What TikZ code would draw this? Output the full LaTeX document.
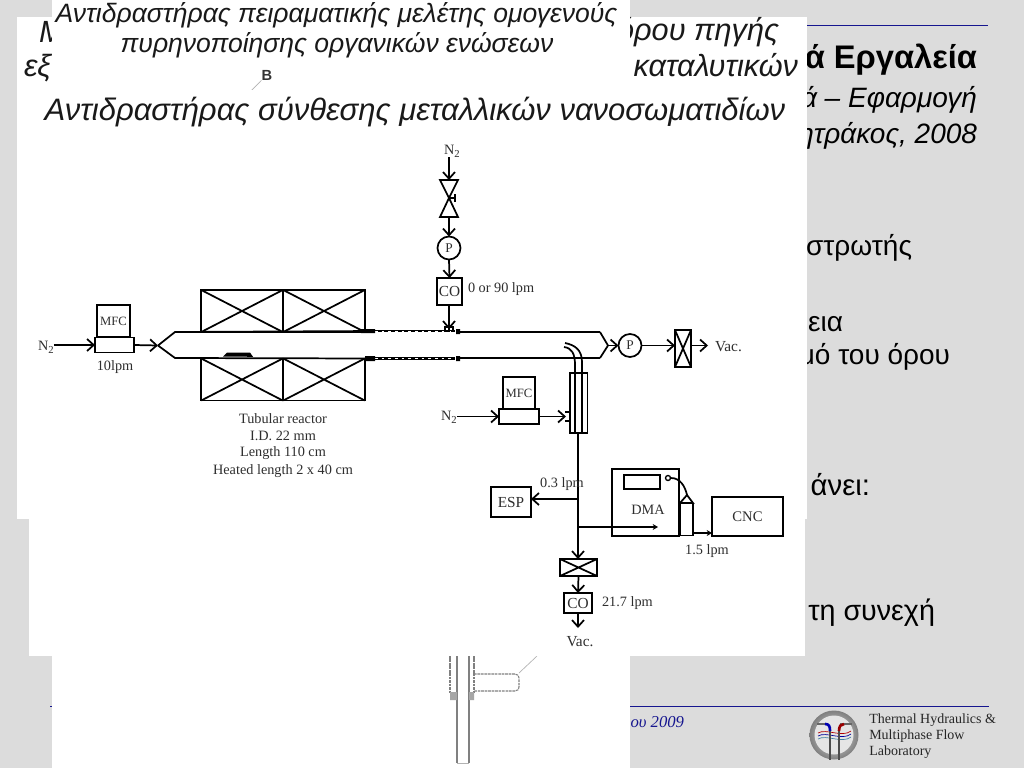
\documentclass[tikz,border=0pt]{standalone}
\usepackage{fontspec}
\setmainfont{Liberation Sans}
\newfontfamily\srf{Liberation Serif}
\usetikzlibrary{arrows.meta,shapes.geometric,calc}
\definecolor{slidebg}{HTML}{DCDCDC}
\definecolor{rule}{HTML}{16168F}
\definecolor{lbl}{HTML}{2E2E2E}
\newcommand\fs[1]{\fontsize{#1}{#1}\selectfont}
\newcommand\subtwo{\raisebox{-2.5pt}{\fontsize{8}{8}\selectfont 2}}
\tikzset{
  x=.75pt,y=-.75pt,
  sheet/.style={fill=white,draw=none},
  slidetxt/.style={anchor=base east,inner sep=0,outer sep=0,text=black},
  headtxt/.style={inner sep=0,outer sep=0,text=black!90,font=\itshape},
  lab/.style={inner sep=0,outer sep=0,text=lbl,font=\srf\fs{10.7}},
  boxn/.style n args={2}{draw=black,line width=1.3pt,fill=white,inner sep=0,outer sep=0,minimum width=#1*.75pt,minimum height=#2*.75pt,text=lbl,font=\srf\fs{9.5}},
  ring/.style={draw=black,line width=1.3pt,fill=white,circle,inner sep=0,outer sep=0,minimum size=23*.75pt,text=lbl,font=\srf\fs{10}},
  pipe/.style={draw=black,line width=1.3pt},
  arr/.style={pipe,-{Straight Barb[length=5pt,width=9pt,line width=1.3pt]}},
  faint/.style={draw=black!30,line width=.5pt},
  sketch/.style={draw=black!50,line width=.8pt},
}
\begin{document}
\begin{tikzpicture}
\useasboundingbox (0,0) rectangle (1024,768);
\fill[slidebg] (0,0) rectangle (1024,768);
% slide behind
\draw[rule,line width=1pt] (50,706.5) -- (989,706.5);
\draw[rule,line width=1pt] (700,25.5) -- (988,25.5);
\node[slidetxt,font=\bfseries\fs{24.5}] (h1) at (977,68) {ά Εργαλεία};
\node[slidetxt,font=\itshape\fs{21}] (h2) at (977,107) {ά – Εφαρμογή};
\node[slidetxt,font=\itshape\fs{21}] (h3) at (977,143) {ητράκος, 2008};
\node[slidetxt,font=\fs{21}] (t1) at (912,255) {στρωτής};
\node[slidetxt,font=\fs{21}] (t2) at (843,331) {εια};
\node[slidetxt,font=\fs{21}] (t3) at (950,364) {μό του όρου};
\node[slidetxt,font=\fs{22}] (t4) at (870,495) {άνει:};
\node[slidetxt,font=\fs{21.5}] (t5) at (935,620) {τη συνεχή};
\node[slidetxt,text=rule,font=\srf\itshape\fs{12.5}] (foot) at (684,727) {ου 2009};
% logo
\shade[inner color=black!10,outer color=black!50] (834,735) circle (24.5);
\fill[black!10] (834,735) circle (19.5);
\foreach \yy/\cc in {-2/red!70!black,1/blue!60!black,4/cyan!60!black}{
  \draw[\cc,line width=.5pt] (818,735+\yy) .. controls (826,730+\yy) and (842,740+\yy) .. (851,733+\yy);
}
\draw[black!60,line width=1.3pt] (817,724) -- (828,724) (840,724) -- (852,724);
\draw[black!70,line width=1.6pt] (830,731) -- (830,760) (839,731) -- (839,760);
\draw[blue!70!black,line width=2pt] (825,724) .. controls (829,724) and (830,726) .. (830,731);
\draw[red!60!black,line width=2pt] (844,724) .. controls (841,724) and (839,726) .. (839,731);
\node[inner sep=0,anchor=base west,font=\srf\fs{10.5},text=black!85] (lab1) at (869,723) {Thermal Hydraulics \&};
\node[inner sep=0,anchor=base west,font=\srf\fs{10.5},text=black!85] (lab2) at (869,739) {Multiphase Flow};
\node[inner sep=0,anchor=base west,font=\srf\fs{10.5},text=black!85] (lab3) at (869,755) {Laboratory};
% first pasted sheet
\fill[sheet] (17,17) rectangle (807,519);
\node[headtxt,anchor=base west,font=\itshape\fs{23}] (m1) at (39,42) {Μ};
\node[headtxt,anchor=base west,font=\itshape\fs{23}] (e1) at (24,76) {εξ};
\node[headtxt,anchor=base east,font=\itshape\fs{23}] (o1) at (779,40) {όρου πηγής};
\node[headtxt,anchor=base east,font=\itshape\fs{23}] (k1) at (798,76) {καταλυτικών};
% second pasted sheet
\fill[sheet] (52,0) rectangle (630,768);
\node[headtxt,anchor=base,font=\itshape\fs{19.9}] (c1) at (336.5,22) {Αντιδραστήρας πειραματικής μελέτης ομογενούς};
\node[headtxt,anchor=base,font=\itshape\fs{19.9}] (c2) at (337,52) {πυρηνοποίησης οργανικών ενώσεων};
\node[inner sep=0,font=\bfseries\fs{11},text=black!80] (bb) at (267,75) {B};
\coordinate (bl) at (249,93);
\draw[faint] (bb.south west) -- (bl);
% lower sketch
\draw[sketch,dash pattern=on 2pt off .6pt] (450,656) -- (450,693) (474,656) -- (474,693);
\draw[sketch] (457,656) -- (457,763) (469,656) -- (469,763);
\draw[faint] (457,763) -- (469,763);
\fill[black!35] (450,692) rectangle (457,700) (469,692) rectangle (474,700);
\draw[sketch,dash pattern=on 2pt off .6pt] (474,674) -- (515,674) .. controls (518,674) and (519,676) .. (519,678) -- (519,687) .. controls (519,689) and (518,691) .. (515,691) -- (474,691);
\coordinate (ll) at (537,656);
\draw[faint] (519,673) -- (ll);
% third pasted sheet
\fill[sheet] (29,90) rectangle (805,656);
\node[headtxt,anchor=base,font=\itshape\fs{23.25}] (c3) at (415,120) {Αντιδραστήρας σύνθεσης μεταλλικών νανοσωματιδίων};
% furnaces
\foreach \n/\cx/\cy in {fa/242/311,fb/324/311,fc/242/379.5,fd/324/379.5}{
  \node[boxn={81.5}{42},fill=none] (\n) at (\cx,\cy) {};
  \draw[pipe] (\n.north west) -- (\n.south east) (\n.north east) -- (\n.south west);
}
% reactor tube
\coordinate (tin) at (158,345.5);
\coordinate (tou) at (608,345.5);
\coordinate (tla) at (175,332);\coordinate (tlb) at (175,358);
\coordinate (tra) at (600,332);\coordinate (trb) at (600,358);
\coordinate (da) at (375,331);\coordinate (db) at (375,358.5);
\coordinate (dc) at (455,331);\coordinate (dd) at (455,358.5);
\draw[pipe] (tin) -- (tla) -- (da) (tin) -- (tlb) -- (db);
\draw[pipe] (tra) -- (tou) -- (trb);
\draw[pipe] (460,332) -- (tra) (460,358) -- (trb);
\draw[black,line width=2.2pt] (da) -- (dc) (db) -- (dd);
\draw[white,line width=.4pt,dash pattern=on 2pt off 3pt] (da) -- (dc) (db) -- (dd);
\fill[black] (361,329) rectangle (375,333) (365,356) rectangle (375,361) (456,329) rectangle (460,334) (456,356) rectangle (460,361);
\fill[black] (223,356.5) -- (227,352.5) -- (250,352.5) -- (253,356.8) -- cycle;
% left feed
\node[lab] (n2l) at (46,347) {N\subtwo};
\node[boxn={33}{32}] (mfca) at (113.5,321) {MFC};
\node[boxn={39}{15}] (mfcb) at (114.5,345) {};
\node[lab] (lp1) at (115,367) {10lpm};
\draw[arr] (n2l.east |- mfcb.west) -- (mfcb.west);
\draw[arr] (mfcb.east) -- (tin);
\node[lab] (tr1) at (283,419) {Tubular reactor};
\node[lab] (tr2) at (283,436) {I.D. 22 mm};
\node[lab] (tr3) at (283,453) {Length 110 cm};
\node[lab] (tr4) at (283,471) {Heated length 2 x 40 cm};
% CO feed
\node[lab] (n2t) at (452,151) {N\subtwo};
\coordinate (vt) at (449,180);\coordinate (vb) at (449,217);\coordinate (vm) at (449,198);
\draw[pipe,fill=white] (440,180) -- (458,180) -- (vm) -- cycle;
\draw[pipe,fill=white] (440,217) -- (458,217) -- (vm) -- cycle;
\draw[pipe] (vm) -- (455,198) (455,194) -- (455,202);
\draw[arr] (n2t.south -| vt) -- (vt);
\node[ring] (pt) at (449,248) {P};
\draw[arr] (vb) -- (pt.north);
\node[boxn={25}{27},font=\srf\fs{11.5}] (cot) at (449.5,291.5) {CO};
\draw[arr] (pt.south) -- (cot.north);
\coordinate (cj) at (449,332);
\draw[pipe] (cot.south -| cj) -- (cj);
\draw[pipe] (443,321) -- (449,328) -- (455,321);
\draw[pipe] (445,330) -- (445,327) -- (453,327) -- (453,330);
\node[lab,anchor=west] (l90) at (468,289) {0 or 90 lpm};
% outlet
\node[ring] (pr) at (630,345.5) {P};
\draw[arr] (tou) -- (pr.west);
\node[boxn={16}{37}] (vr) at (683,348.5) {};
\draw[pipe] (vr.north west) -- (vr.south east) (vr.north east) -- (vr.south west);
\draw[arr] (pr.east) -- (vr.west |- pr.east);
\coordinate (vacr) at (708,345.5);
\draw[arr] (vr.east |- vacr) -- (vacr);
\node[lab,anchor=west,font=\srf\fs{11.5}] (vac1) at (715,347) {Vac.};
% probe
\node[boxn={17.5}{60}] (pb) at (578.7,403) {};
\coordinate (pa1) at (565,343);\coordinate (pa2) at (564,347);
\draw[pipe] (pa1) .. controls (575,345) and (582,350) .. (582,362) -- (582,433);
\draw[pipe] (pa2) .. controls (572,348) and (575,354) .. (575,365) -- (575,433);
% MFC 2
\node[lab] (n2m) at (449,417) {N\subtwo};
\node[boxn={32}{32}] (mfcc) at (519,393) {MFC};
\node[boxn={40}{15}] (mfcd) at (519,416.5) {};
\draw[arr] (n2m.east |- mfcd.west) -- (mfcd.west);
\coordinate (pj) at (566,416.5);
\draw[arr] (mfcd.east) -- (pj);
\draw[pipe] (565,412) -- (570,412) (565,421) -- (570,421);
% sampling line
\coordinate (pe) at (578,433);
\coordinate (j1) at (578,499);
\coordinate (j2) at (578,527);
\node[boxn={37}{17}] (vd) at (578.5,567.5) {};
\draw[pipe] (vd.north west) -- (vd.south east) (vd.north east) -- (vd.south west);
\draw[arr] (pe) -- (vd.north -| pe);
\node[boxn={40}{30},font=\srf\fs{11.5}] (esp) at (511,502) {ESP};
\draw[arr] (j1) -- (esp.east |- j1);
\node[lab] (l03) at (562,484) {0.3 lpm};
\node[boxn={67}{67},fill=none] (dma) at (645.5,502.5) {};
\node[lab] (dmal) at (648,510) {DMA};
\coordinate (dmae) at (658,527);
\draw[pipe,-{Stealth[length=4pt,width=4.5pt]}] (j2) -- (dmae);
\node[draw=black,line width=1pt,inner sep=0,minimum width=36*.75pt,minimum height=14*.75pt] (scr) at (642,482) {};
\node[draw=black,line width=1pt,circle,inner sep=0,minimum size=5*.75pt] (knob) at (668,478) {};
\coordinate (tipc) at (687,495);
\draw[pipe] (knob.east) .. controls (680,478) and (685,486) .. (tipc);
\draw[pipe,fill=white] (680,503) -- (tipc) -- (693,503) -- cycle;
\node[boxn={13}{32},fill=white] (cyl) at (686.5,519.5) {};
\draw[black,line width=2pt] (680,503) -- (680,536);
\node[boxn={71}{39},font=\srf\fs{11}] (cnc) at (747.5,516.5) {CNC};
\coordinate (cy) at (693,533);
\draw[pipe,-{Stealth[length=4pt,width=4.5pt]}] (cy) -- (cnc.west |- cy);
\node[lab] (l15) at (707,551) {1.5 lpm};
\node[boxn={28}{20},font=\srf\fs{11.5}] (cob) at (578,603) {CO};
\draw[arr] (vd.south) -- (cob.north);
\coordinate (vacb) at (578,628);
\draw[arr] (cob.south) -- (vacb);
\node[lab,anchor=west] (l21) at (602,603) {21.7 lpm};
\node[lab,font=\srf\fs{11.5}] (vac2) at (580,642) {Vac.};
\end{tikzpicture}
\end{document}
